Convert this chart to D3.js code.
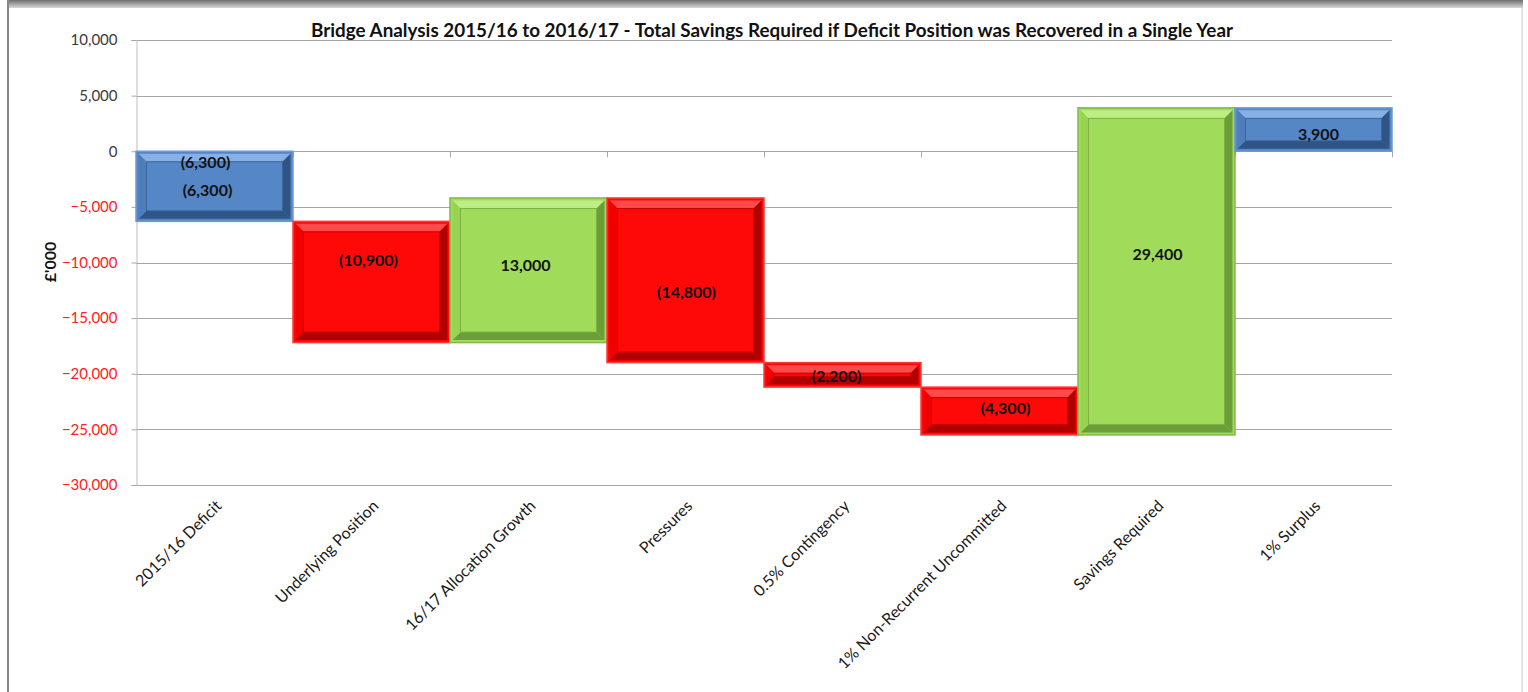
<!DOCTYPE html>
<html>
<head>
<meta charset="utf-8">
<script src="https://cdn.jsdelivr.net/npm/d3@7"></script>
<style>
  body { margin: 0; background: #fff; }
  svg { display: block; font-family: Lato, "Open Sans", sans-serif; }
</style>
</head>
<body>
<svg id="chart"></svg>
<script>
// waterfall data
let categories = ['2015/16 Deficit', 'Underlying Position', '16/17 Allocation Growth', 'Pressures',
  '0.5% Contingency', '1% Non-Recurrent Uncommitted', 'Savings Required', '1% Surplus'];
let values = [-6300, -10900, 13000, -14800, -2200, -4300, 29400, 3900];
let isTotal = [true, false, false, false, false, false, false, true];
let yTicks = [10000, 5000, 0, -5000, -10000, -15000, -20000, -25000, -30000];
let insideEndLabels = ['2015/16 Deficit'];

let width = 1528, height = 692;
let margin = { left: 136, right: 136, top: 40, bottom: 207 };

let svg = d3.select('#chart').attr('width', width).attr('height', height);

// chart area frame (top shadow + side lines)
let defs = svg.append('defs');
let topGrad = defs.append('linearGradient').attr('id', 'topShade')
  .attr('x1', 0).attr('y1', 0).attr('x2', 0).attr('y2', 1);
topGrad.append('stop').attr('offset', '0%').attr('stop-color', '#6e6e6e');
topGrad.append('stop').attr('offset', '100%').attr('stop-color', '#d8d8d8');
svg.append('rect').attr('x', 7).attr('y', 0).attr('width', 1516).attr('height', 8).attr('fill', 'url(#topShade)');
svg.append('rect').attr('x', 7).attr('y', 0).attr('width', 2).attr('height', height).attr('fill', '#8a8a8a');
svg.append('rect').attr('x', 1521).attr('y', 8).attr('width', 2).attr('height', height).attr('fill', '#e4e4e4');

let x = d3.scaleBand()
  .domain(categories)
  .range([margin.left, width - margin.right])
  .padding(0);

let y = d3.scaleLinear()
  .domain([-30000, 10000])
  .range([height - margin.bottom, margin.top]);

// gridlines
svg.append('g')
  .selectAll('line')
  .data(yTicks)
  .enter()
  .append('line')
  .attr('x1', margin.left)
  .attr('x2', width - margin.right)
  .attr('y1', d => Math.round(y(d)) + 0.5)
  .attr('y2', d => Math.round(y(d)) + 0.5)
  .attr('stroke', '#a6a6a6')
  .attr('stroke-width', 1);

// y axis
let yAxis = svg.append('g')
  .attr('transform', `translate(${margin.left + 0.5},0)`)
  .call(d3.axisLeft(y).tickValues(yTicks).tickSize(5).tickPadding(14).tickFormat(d3.format(',')));
yAxis.select('.domain').attr('stroke', '#bfbfbf');
yAxis.selectAll('.tick line').attr('stroke', '#a6a6a6');
yAxis.selectAll('.tick text')
  .attr('font-family', 'Lato, sans-serif')
  .attr('font-size', '15px')
  .attr('fill', d => d < 0 ? '#ff2020' : '#3a3a3a');

// category ticks on the zero line
let bounds = categories.map(c => x(c)).concat([x(categories[categories.length - 1]) + x.bandwidth()]);
svg.append('g')
  .selectAll('line')
  .data(bounds)
  .enter()
  .append('line')
  .attr('x1', d => Math.round(d) + 0.5)
  .attr('x2', d => Math.round(d) + 0.5)
  .attr('y1', y(0))
  .attr('y2', y(0) + 6)
  .attr('stroke', '#a6a6a6');

// waterfall bars
let palettes = {
  total: { face: '#5586c6', edge: '#6d9ad6', light: '#86b0e6', side: '#4f7dba', dark: '#2f5586', inner: '#3c659c' },
  neg: { face: '#ff0808', edge: '#ff3a3a', light: '#ff4a4a', side: '#f00000', dark: '#b00000', inner: '#c80000' },
  pos: { face: '#a0dc5a', edge: '#7fba48', light: '#bdee84', side: '#98d452', dark: '#6c9e38', inner: '#7fb044' }
};

let running = 0;
let bars = values.map((v, i) => {
  let start = isTotal[i] ? 0 : running;
  let end = start + v;
  running = end;
  return {
    cat: categories[i],
    value: v,
    lo: Math.min(start, end),
    hi: Math.max(start, end),
    kind: isTotal[i] ? 'total' : (v < 0 ? 'neg' : 'pos')
  };
});

let barG = svg.append('g');
bars.forEach(d => {
  let p = palettes[d.kind];
  let bx = x(d.cat), bw = x.bandwidth();
  let by = y(d.hi), bh = y(d.lo) - y(d.hi);
  let g = barG.append('g');
  g.append('rect').attr('x', bx).attr('y', by).attr('width', bw).attr('height', bh)
    .attr('fill', p.face).attr('stroke', p.edge).attr('stroke-width', 1.5);
  let o = 2.5;
  let b = Math.min(8, (bh - 2 * o) / 2 - 1);
  let x0 = bx + o, x1 = bx + bw - o, y0 = by + o, y1 = by + bh - o;
  let poly = pts => pts.map(q => q.join(',')).join(' ');
  g.append('polygon').attr('points', poly([[x0, y0], [x1, y0], [x1 - b, y0 + b], [x0 + b, y0 + b]])).attr('fill', p.light);
  g.append('polygon').attr('points', poly([[x0, y1], [x1, y1], [x1 - b, y1 - b], [x0 + b, y1 - b]])).attr('fill', p.dark);
  g.append('polygon').attr('points', poly([[x0, y0], [x0 + b, y0 + b], [x0 + b, y1 - b], [x0, y1]])).attr('fill', p.side);
  g.append('polygon').attr('points', poly([[x1, y0], [x1 - b, y0 + b], [x1 - b, y1 - b], [x1, y1]])).attr('fill', p.dark);
  g.append('rect').attr('x', x0 + b).attr('y', y0 + b).attr('width', Math.max(0, bw - 2 * o - 2 * b))
    .attr('height', Math.max(0, bh - 2 * o - 2 * b))
    .attr('fill', p.face).attr('stroke', p.inner).attr('stroke-width', 1);
});

// value labels (small nudges as placed in the original)
let labelShift = {
  '2015/16 Deficit': [-7, 4],
  'Underlying Position': [-3, -22],
  '16/17 Allocation Growth': [-3, -5],
  'Pressures': [1, 12],
  '0.5% Contingency': [-6, 2],
  '1% Non-Recurrent Uncommitted': [6, -3],
  'Savings Required': [1, -17],
  '1% Surplus': [5, 5]
};
let fmt = v => v < 0 ? '(' + d3.format(',')(-v) + ')' : d3.format(',')(v);
svg.append('g')
  .selectAll('text')
  .data(bars)
  .enter()
  .append('text')
  .attr('x', d => x(d.cat) + x.bandwidth() / 2 + labelShift[d.cat][0])
  .attr('y', d => (y(d.hi) + y(d.lo)) / 2 + labelShift[d.cat][1])
  .attr('dy', '0.35em')
  .attr('text-anchor', 'middle')
  .attr('font-size', '16px')
  .attr('font-weight', 'bold')
  .attr('fill', '#111')
  .text(d => fmt(d.value));

svg.append('g')
  .selectAll('text')
  .data(bars.filter(d => insideEndLabels.includes(d.cat)))
  .enter()
  .append('text')
  .attr('x', d => x(d.cat) + x.bandwidth() / 2 - 9)
  .attr('y', d => y(d.hi) + 11)
  .attr('dy', '0.35em')
  .attr('text-anchor', 'middle')
  .attr('font-size', '16px')
  .attr('font-weight', 'bold')
  .attr('fill', '#111')
  .text(d => fmt(d.value));

// category labels
svg.append('g')
  .selectAll('text')
  .data(categories)
  .enter()
  .append('text')
  .attr('transform', d => `translate(${x(d) + x.bandwidth() / 2 + 8},${y(-30000) + 22}) rotate(-45)`)
  .attr('text-anchor', 'end')
  .attr('font-size', '16px')
  .attr('fill', '#1a1a1a')
  .text(d => d);

// title
svg.append('text')
  .attr('x', 772)
  .attr('y', 37)
  .attr('text-anchor', 'middle')
  .attr('font-size', '18px')
  .attr('font-weight', 'bold')
  .attr('fill', '#111')
  .attr('textLength', 922)
  .attr('lengthAdjust', 'spacingAndGlyphs')
  .text('Bridge Analysis 2015/16 to 2016/17 - Total Savings Required if Deficit Position was Recovered in a Single Year');

// y axis title
svg.append('text')
  .attr('transform', 'translate(56,262) rotate(-90)')
  .attr('text-anchor', 'middle')
  .attr('font-size', '16px')
  .attr('font-weight', 'bold')
  .attr('fill', '#111')
  .text('£\'000');
</script>
</body>
</html>
